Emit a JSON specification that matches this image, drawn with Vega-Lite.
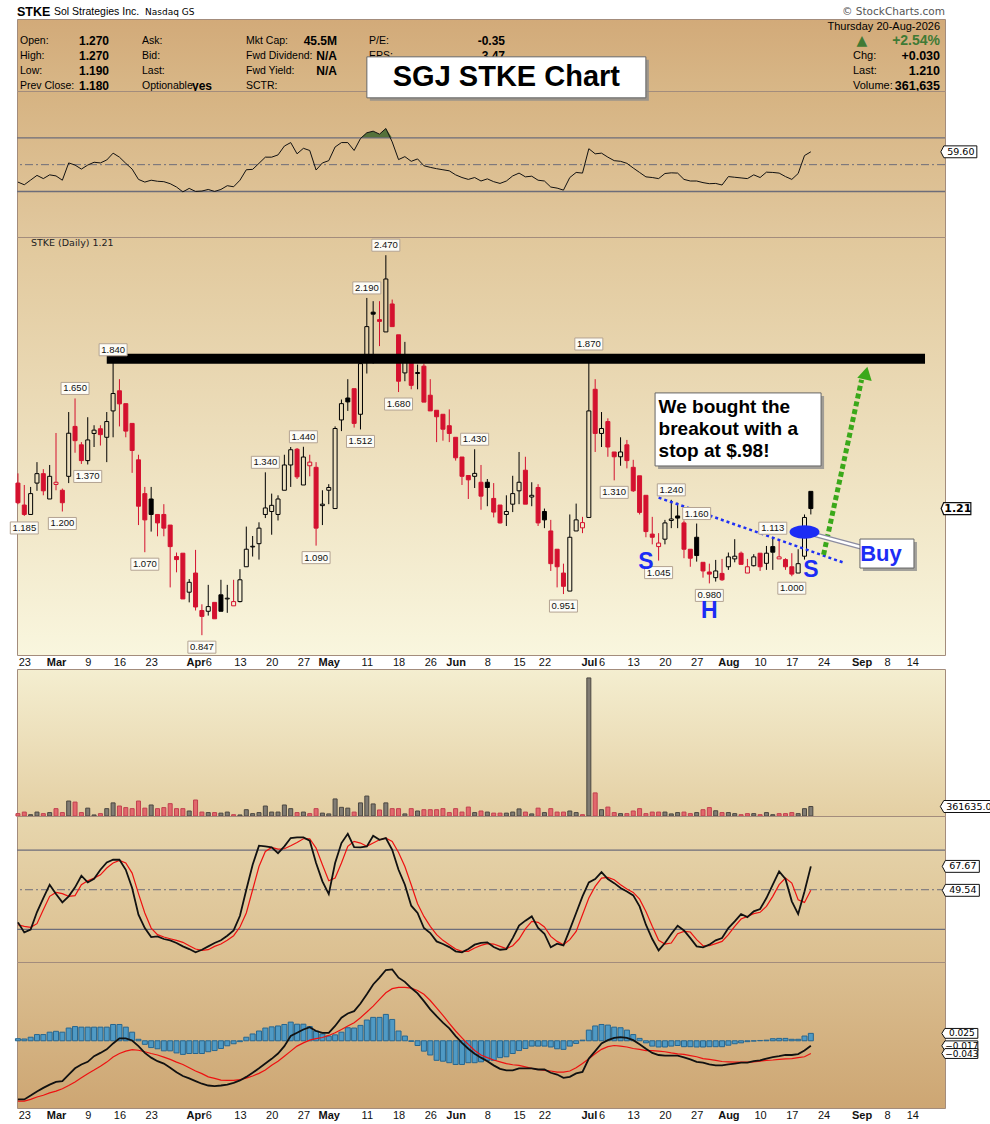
{
  "$schema": "https://vega.github.io/schema/vega-lite/v6.json",
  "background": "white",
  "padding": {"left": 7, "top": 5, "right": 0, "bottom": 0},
  "spacing": 0,
  "config": {"view": {"stroke": "#a38c7c"}, "text": {"font": "DejaVu Sans"}},
  "datasets": {
    "px": [
      {"d":"02-20","o":1.30,"h":1.336,"l":1.225,"c":1.23,"v":90000,"rsi":37,"k":25.3,"ds":23.5,"m":-0.198,"s":-0.204,"hg":0.007},
      {"d":"02-23","o":1.222,"h":1.293,"l":1.185,"c":1.19,"v":150000,"rsi":35,"k":17.7,"ds":22.3,"m":-0.198,"s":-0.204,"hg":0.006},
      {"d":"02-24","o":1.19,"h":1.286,"l":1.19,"c":1.262,"v":50000,"rsi":38.5,"k":19.8,"ds":21.5,"m":-0.185,"s":-0.198,"hg":0.012},
      {"d":"02-25","o":1.30,"h":1.379,"l":1.272,"c":1.335,"v":150000,"rsi":42,"k":33.1,"ds":24.3,"m":-0.171,"s":-0.19,"hg":0.021},
      {"d":"02-26","o":1.335,"h":1.352,"l":1.256,"c":1.272,"v":90000,"rsi":39.6,"k":43.7,"ds":34.9,"m":-0.159,"s":-0.184,"hg":0.021},
      {"d":"02-27","o":1.243,"h":1.368,"l":1.243,"c":1.325,"v":130000,"rsi":42.4,"k":53.8,"ds":45,"m":-0.148,"s":-0.176,"hg":0.029},
      {"d":"03-02","o":1.295,"h":1.497,"l":1.274,"c":1.303,"v":280000,"rsi":41.6,"k":46.7,"ds":48,"m":-0.139,"s":-0.17,"hg":0.032},
      {"d":"03-03","o":1.274,"h":1.28,"l":1.20,"c":1.23,"v":130000,"rsi":38.4,"k":40.4,"ds":47,"m":-0.136,"s":-0.162,"hg":0.029},
      {"d":"03-04","o":1.325,"h":1.588,"l":1.30,"c":1.496,"v":570000,"rsi":51.3,"k":45,"ds":45,"m":-0.114,"s":-0.151,"hg":0.043},
      {"d":"03-05","o":1.525,"h":1.65,"l":1.416,"c":1.465,"v":530000,"rsi":49.7,"k":51.8,"ds":45.5,"m":-0.093,"s":-0.139,"hg":0.048},
      {"d":"03-06","o":1.448,"h":1.459,"l":1.372,"c":1.385,"v":130000,"rsi":46.7,"k":60.6,"ds":53.8,"m":-0.08,"s":-0.125,"hg":0.046},
      {"d":"03-09","o":1.385,"h":1.565,"l":1.37,"c":1.468,"v":300000,"rsi":49.7,"k":55.5,"ds":56.8,"m":-0.071,"s":-0.111,"hg":0.046},
      {"d":"03-10","o":1.495,"h":1.53,"l":1.439,"c":1.509,"v":40000,"rsi":51.8,"k":58.3,"ds":58.8,"m":-0.052,"s":-0.099,"hg":0.046},
      {"d":"03-11","o":1.515,"h":1.53,"l":1.445,"c":1.49,"v":90000,"rsi":51.3,"k":65.1,"ds":61.3,"m":-0.041,"s":-0.086,"hg":0.046},
      {"d":"03-12","o":1.479,"h":1.588,"l":1.379,"c":1.546,"v":280000,"rsi":53.5,"k":70.7,"ds":66.4,"m":-0.029,"s":-0.072,"hg":0.046},
      {"d":"03-13","o":1.593,"h":1.84,"l":1.479,"c":1.673,"v":500000,"rsi":58.6,"k":72.7,"ds":70.2,"m":-0.009,"s":-0.055,"hg":0.055},
      {"d":"03-16","o":1.686,"h":1.742,"l":1.525,"c":1.625,"v":380000,"rsi":55.6,"k":72.7,"ds":72.2,"m":0.008,"s":-0.043,"hg":0.055},
      {"d":"03-17","o":1.626,"h":1.626,"l":1.479,"c":1.505,"v":320000,"rsi":51,"k":65.1,"ds":70.2,"m":0.008,"s":-0.035,"hg":0.046},
      {"d":"03-18","o":1.538,"h":1.538,"l":1.338,"c":1.425,"v":280000,"rsi":46.7,"k":51.3,"ds":62.6,"m":0.001,"s":-0.03,"hg":0.029},
      {"d":"03-19","o":1.388,"h":1.408,"l":1.155,"c":1.218,"v":570000,"rsi":39,"k":31.1,"ds":47,"m":-0.018,"s":-0.032,"hg":0.005},
      {"d":"03-20","o":1.262,"h":1.286,"l":1.07,"c":1.172,"v":300000,"rsi":37,"k":21,"ds":32.4,"m":-0.041,"s":-0.037,"hg":-0.012},
      {"d":"03-23","o":1.243,"h":1.286,"l":1.134,"c":1.19,"v":420000,"rsi":38.4,"k":14.2,"ds":21,"m":-0.057,"s":-0.043,"hg":-0.023},
      {"d":"03-24","o":1.19,"h":1.19,"l":1.119,"c":1.162,"v":280000,"rsi":37.6,"k":14.7,"ds":16,"m":-0.069,"s":-0.048,"hg":-0.027},
      {"d":"03-25","o":1.19,"h":1.225,"l":1.119,"c":1.145,"v":320000,"rsi":37.3,"k":12.7,"ds":14.2,"m":-0.077,"s":-0.055,"hg":-0.034},
      {"d":"03-26","o":1.155,"h":1.155,"l":0.969,"c":1.087,"v":470000,"rsi":35.8,"k":11.7,"ds":12.9,"m":-0.091,"s":-0.063,"hg":-0.034},
      {"d":"03-27","o":1.057,"h":1.069,"l":1.011,"c":1.048,"v":280000,"rsi":33.3,"k":9.7,"ds":11.7,"m":-0.106,"s":-0.072,"hg":-0.041},
      {"d":"03-30","o":1.067,"h":1.067,"l":0.938,"c":0.938,"v":280000,"rsi":29.7,"k":7.1,"ds":10.2,"m":-0.119,"s":-0.08,"hg":-0.046},
      {"d":"03-31","o":0.956,"h":0.992,"l":0.929,"c":0.983,"v":190000,"rsi":32.3,"k":5.1,"ds":7.6,"m":-0.127,"s":-0.091,"hg":-0.043},
      {"d":"04-01","o":1.009,"h":1.077,"l":0.908,"c":0.917,"v":610000,"rsi":30,"k":2.6,"ds":5.1,"m":-0.136,"s":-0.102,"hg":-0.043},
      {"d":"04-02","o":0.908,"h":0.924,"l":0.847,"c":0.893,"v":150000,"rsi":30.3,"k":4.6,"ds":4.1,"m":-0.145,"s":-0.111,"hg":-0.043},
      {"d":"04-06","o":0.906,"h":0.976,"l":0.895,"c":0.918,"v":130000,"rsi":31.5,"k":7.1,"ds":4.6,"m":-0.151,"s":-0.122,"hg":-0.037},
      {"d":"04-07","o":0.929,"h":0.929,"l":0.887,"c":0.887,"v":130000,"rsi":30,"k":9.7,"ds":7.1,"m":-0.153,"s":-0.127,"hg":-0.033},
      {"d":"04-08","o":0.949,"h":0.99,"l":0.906,"c":0.906,"v":110000,"rsi":31.5,"k":11.7,"ds":8.9,"m":-0.151,"s":-0.133,"hg":-0.026},
      {"d":"04-09","o":0.938,"h":0.976,"l":0.902,"c":0.94,"v":150000,"rsi":34.3,"k":15.2,"ds":11.7,"m":-0.148,"s":-0.134,"hg":-0.017},
      {"d":"04-10","o":0.92,"h":0.99,"l":0.92,"c":0.931,"v":50000,"rsi":33.5,"k":19.2,"ds":15.2,"m":-0.142,"s":-0.134,"hg":-0.01},
      {"d":"04-13","o":0.931,"h":1.02,"l":0.929,"c":0.99,"v":40000,"rsi":38.4,"k":30.3,"ds":21.8,"m":-0.134,"s":-0.131,"hg":-0.003},
      {"d":"04-14","o":1.027,"h":1.15,"l":1.027,"c":1.079,"v":240000,"rsi":46.2,"k":50,"ds":32.4,"m":-0.122,"s":-0.126,"hg":0.012},
      {"d":"04-15","o":1.086,"h":1.12,"l":1.057,"c":1.088,"v":90000,"rsi":46.5,"k":68.9,"ds":50,"m":-0.108,"s":-0.119,"hg":0.023},
      {"d":"04-16","o":1.096,"h":1.164,"l":1.048,"c":1.145,"v":130000,"rsi":51,"k":83.3,"ds":67.6,"m":-0.093,"s":-0.11,"hg":0.033},
      {"d":"04-17","o":1.19,"h":1.34,"l":1.178,"c":1.212,"v":380000,"rsi":55.6,"k":82.8,"ds":79,"m":-0.077,"s":-0.099,"hg":0.043},
      {"d":"04-20","o":1.20,"h":1.262,"l":1.124,"c":1.221,"v":150000,"rsi":55.6,"k":82,"ds":82,"m":-0.061,"s":-0.083,"hg":0.047},
      {"d":"04-21","o":1.19,"h":1.256,"l":1.17,"c":1.243,"v":150000,"rsi":57.3,"k":77.7,"ds":80.8,"m":-0.043,"s":-0.069,"hg":0.05},
      {"d":"04-22","o":1.274,"h":1.408,"l":1.274,"c":1.368,"v":420000,"rsi":63.9,"k":82.8,"ds":81,"m":-0.018,"s":-0.052,"hg":0.055},
      {"d":"04-23","o":1.368,"h":1.439,"l":1.286,"c":1.428,"v":280000,"rsi":66.5,"k":89.1,"ds":83.3,"m":0.016,"s":-0.035,"hg":0.063},
      {"d":"04-24","o":1.43,"h":1.435,"l":1.315,"c":1.323,"v":130000,"rsi":58.1,"k":89.6,"ds":85.8,"m":0.027,"s":-0.018,"hg":0.056},
      {"d":"04-27","o":1.293,"h":1.44,"l":1.293,"c":1.399,"v":150000,"rsi":62.2,"k":89.6,"ds":88.6,"m":0.038,"s":-0.007,"hg":0.056},
      {"d":"04-28","o":1.365,"h":1.408,"l":1.325,"c":1.379,"v":90000,"rsi":60.6,"k":87.1,"ds":88.6,"m":0.046,"s":0.002,"hg":0.048},
      {"d":"04-29","o":1.359,"h":1.379,"l":1.09,"c":1.145,"v":280000,"rsi":46,"k":70.2,"ds":81.5,"m":0.033,"s":0.007,"hg":0.033},
      {"d":"04-30","o":1.22,"h":1.274,"l":1.155,"c":1.225,"v":110000,"rsi":51.3,"k":56.3,"ds":68.9,"m":0.027,"s":0.011,"hg":0.023},
      {"d":"05-01","o":1.274,"h":1.296,"l":1.225,"c":1.284,"v":80000,"rsi":53,"k":46.7,"ds":56.8,"m":0.027,"s":0.018,"hg":0.016},
      {"d":"05-04","o":1.21,"h":1.525,"l":1.21,"c":1.516,"v":650000,"rsi":63.2,"k":70.2,"ds":58.8,"m":0.05,"s":0.027,"hg":0.02},
      {"d":"05-05","o":1.553,"h":1.645,"l":1.505,"c":1.626,"v":330000,"rsi":66.5,"k":85.3,"ds":70.2,"m":0.078,"s":0.038,"hg":0.029},
      {"d":"05-06","o":1.652,"h":1.742,"l":1.593,"c":1.634,"v":300000,"rsi":66.5,"k":92.3,"ds":82.8,"m":0.092,"s":0.05,"hg":0.044},
      {"d":"05-07","o":1.696,"h":1.696,"l":1.52,"c":1.538,"v":150000,"rsi":60.6,"k":82.3,"ds":86.6,"m":0.1,"s":0.061,"hg":0.043},
      {"d":"05-08","o":1.578,"h":1.82,"l":1.512,"c":1.82,"v":500000,"rsi":69.5,"k":82,"ds":85.3,"m":0.126,"s":0.078,"hg":0.052},
      {"d":"05-11","o":1.833,"h":2.19,"l":1.77,"c":2.02,"v":760000,"rsi":73.8,"k":82.8,"ds":82.8,"m":0.157,"s":0.097,"hg":0.07},
      {"d":"05-12","o":2.104,"h":2.17,"l":1.82,"c":2.092,"v":460000,"rsi":75,"k":90.8,"ds":85.3,"m":0.19,"s":0.117,"hg":0.079},
      {"d":"05-13","o":2.06,"h":2.17,"l":1.912,"c":2.05,"v":230000,"rsi":72.8,"k":87.8,"ds":87.8,"m":0.213,"s":0.14,"hg":0.079},
      {"d":"05-14","o":1.99,"h":2.47,"l":1.99,"c":2.31,"v":500000,"rsi":77,"k":89.1,"ds":89.1,"m":0.239,"s":0.162,"hg":0.089},
      {"d":"05-15","o":2.153,"h":2.18,"l":2.02,"c":2.02,"v":280000,"rsi":67,"k":80.2,"ds":86.6,"m":0.241,"s":0.176,"hg":0.072},
      {"d":"05-18","o":1.974,"h":1.974,"l":1.68,"c":1.732,"v":280000,"rsi":53.8,"k":65.1,"ds":78.2,"m":0.213,"s":0.18,"hg":0.033},
      {"d":"05-19","o":1.773,"h":1.935,"l":1.732,"c":1.833,"v":80000,"rsi":56,"k":53.8,"ds":67.6,"m":0.199,"s":0.18,"hg":0.016},
      {"d":"05-20","o":1.823,"h":1.833,"l":1.693,"c":1.712,"v":280000,"rsi":52.5,"k":37.9,"ds":53.8,"m":0.178,"s":0.178,"hg":-0.002},
      {"d":"05-21","o":1.77,"h":1.815,"l":1.693,"c":1.775,"v":190000,"rsi":54.3,"k":32.4,"ds":39.4,"m":0.16,"s":0.17,"hg":-0.016},
      {"d":"05-22","o":1.807,"h":1.82,"l":1.633,"c":1.633,"v":240000,"rsi":49.2,"k":21,"ds":29.8,"m":0.134,"s":0.157,"hg":-0.035},
      {"d":"05-26","o":1.665,"h":1.742,"l":1.593,"c":1.593,"v":240000,"rsi":48,"k":17.2,"ds":22.3,"m":0.106,"s":0.136,"hg":-0.048},
      {"d":"05-27","o":1.596,"h":1.596,"l":1.459,"c":1.567,"v":240000,"rsi":47,"k":10.9,"ds":16,"m":0.083,"s":0.111,"hg":-0.066},
      {"d":"05-28","o":1.578,"h":1.578,"l":1.465,"c":1.513,"v":280000,"rsi":46.2,"k":8.9,"ds":11.7,"m":0.061,"s":0.086,"hg":-0.069},
      {"d":"05-29","o":1.528,"h":1.60,"l":1.459,"c":1.495,"v":130000,"rsi":45.4,"k":6.6,"ds":8.4,"m":0.042,"s":0.059,"hg":-0.074},
      {"d":"06-01","o":1.479,"h":1.479,"l":1.385,"c":1.396,"v":280000,"rsi":42.4,"k":3.4,"ds":5.1,"m":0.016,"s":0.033,"hg":-0.08},
      {"d":"06-02","o":1.399,"h":1.399,"l":1.293,"c":1.325,"v":150000,"rsi":40.4,"k":2.6,"ds":3.4,"m":-0.007,"s":0.01,"hg":-0.08},
      {"d":"06-03","o":1.328,"h":1.328,"l":1.243,"c":1.312,"v":340000,"rsi":39,"k":5.1,"ds":3.4,"m":-0.027,"s":-0.012,"hg":-0.074},
      {"d":"06-04","o":1.325,"h":1.43,"l":1.282,"c":1.336,"v":130000,"rsi":40.4,"k":8.4,"ds":5.9,"m":-0.044,"s":-0.033,"hg":-0.074},
      {"d":"06-05","o":1.303,"h":1.368,"l":1.206,"c":1.253,"v":190000,"rsi":37.8,"k":9.7,"ds":7.9,"m":-0.057,"s":-0.048,"hg":-0.071},
      {"d":"06-08","o":1.303,"h":1.315,"l":1.218,"c":1.284,"v":150000,"rsi":39.4,"k":10.2,"ds":9.2,"m":-0.069,"s":-0.057,"hg":-0.066},
      {"d":"06-09","o":1.245,"h":1.30,"l":1.18,"c":1.198,"v":110000,"rsi":37.3,"k":6.6,"ds":8.9,"m":-0.083,"s":-0.065,"hg":-0.066},
      {"d":"06-10","o":1.222,"h":1.222,"l":1.16,"c":1.162,"v":110000,"rsi":36,"k":4.6,"ds":7.1,"m":-0.095,"s":-0.071,"hg":-0.057},
      {"d":"06-11","o":1.19,"h":1.256,"l":1.152,"c":1.20,"v":110000,"rsi":37.8,"k":5.1,"ds":5.4,"m":-0.1,"s":-0.077,"hg":-0.054},
      {"d":"06-12","o":1.225,"h":1.327,"l":1.198,"c":1.262,"v":150000,"rsi":41.6,"k":13.4,"ds":7.6,"m":-0.1,"s":-0.081,"hg":-0.043},
      {"d":"06-15","o":1.272,"h":1.419,"l":1.225,"c":1.303,"v":270000,"rsi":43.7,"k":22.8,"ds":12.7,"m":-0.093,"s":-0.083,"hg":-0.033},
      {"d":"06-16","o":1.348,"h":1.40,"l":1.225,"c":1.225,"v":150000,"rsi":40.9,"k":26.6,"ds":20.3,"m":-0.093,"s":-0.088,"hg":-0.026},
      {"d":"06-17","o":1.25,"h":1.303,"l":1.218,"c":1.256,"v":80000,"rsi":41.4,"k":29.8,"ds":26.1,"m":-0.093,"s":-0.093,"hg":-0.018},
      {"d":"06-18","o":1.284,"h":1.296,"l":1.152,"c":1.162,"v":300000,"rsi":38.4,"k":21,"ds":25.3,"m":-0.097,"s":-0.097,"hg":-0.018},
      {"d":"06-22","o":1.20,"h":1.21,"l":1.145,"c":1.172,"v":130000,"rsi":37.8,"k":16.7,"ds":21.8,"m":-0.097,"s":-0.1,"hg":-0.018},
      {"d":"06-23","o":1.136,"h":1.172,"l":1.015,"c":1.036,"v":280000,"rsi":33.3,"k":6.4,"ds":14.7,"m":-0.108,"s":-0.102,"hg":-0.021},
      {"d":"06-24","o":1.079,"h":1.079,"l":0.969,"c":1.027,"v":150000,"rsi":32.5,"k":9.2,"ds":10.9,"m":-0.114,"s":-0.106,"hg":-0.027},
      {"d":"06-25","o":1.009,"h":1.036,"l":0.951,"c":0.972,"v":150000,"rsi":31,"k":7.9,"ds":8.4,"m":-0.125,"s":-0.106,"hg":-0.029},
      {"d":"06-26","o":0.959,"h":1.19,"l":0.959,"c":1.116,"v":190000,"rsi":40.4,"k":19.8,"ds":12.2,"m":-0.122,"s":-0.102,"hg":-0.018},
      {"d":"06-29","o":1.136,"h":1.227,"l":1.136,"c":1.172,"v":130000,"rsi":44.2,"k":32.4,"ds":18.5,"m":-0.11,"s":-0.091,"hg":-0.009},
      {"d":"06-30","o":1.146,"h":1.182,"l":1.129,"c":1.163,"v":50000,"rsi":43.7,"k":45,"ds":31.1,"m":-0.105,"s":-0.077,"hg":0.002},
      {"d":"07-01","o":1.18,"h":1.87,"l":1.18,"c":1.593,"v":5260000,"rsi":61.9,"k":55.5,"ds":43.7,"m":-0.06,"s":-0.061,"hg":0.036},
      {"d":"07-02","o":1.693,"h":1.742,"l":1.419,"c":1.495,"v":880000,"rsi":58.1,"k":58.1,"ds":52.5,"m":-0.035,"s":-0.044,"hg":0.05},
      {"d":"07-06","o":1.495,"h":1.588,"l":1.439,"c":1.516,"v":240000,"rsi":58.6,"k":63.4,"ds":58.8,"m":-0.009,"s":-0.029,"hg":0.055},
      {"d":"07-07","o":1.546,"h":1.56,"l":1.40,"c":1.439,"v":340000,"rsi":55.6,"k":58.1,"ds":59.3,"m":0.002,"s":-0.02,"hg":0.053},
      {"d":"07-08","o":1.419,"h":1.419,"l":1.31,"c":1.40,"v":130000,"rsi":53,"k":55,"ds":57.6,"m":0.01,"s":-0.016,"hg":0.046},
      {"d":"07-09","o":1.40,"h":1.479,"l":1.365,"c":1.419,"v":90000,"rsi":52.5,"k":51.3,"ds":53.8,"m":0.012,"s":-0.018,"hg":0.044},
      {"d":"07-10","o":1.448,"h":1.468,"l":1.355,"c":1.385,"v":90000,"rsi":51,"k":48.7,"ds":50.5,"m":0.01,"s":-0.021,"hg":0.036},
      {"d":"07-13","o":1.359,"h":1.388,"l":1.268,"c":1.272,"v":190000,"rsi":47.5,"k":45.7,"ds":48,"m":0.002,"s":-0.026,"hg":0.021},
      {"d":"07-14","o":1.327,"h":1.327,"l":1.19,"c":1.197,"v":280000,"rsi":44.2,"k":37.4,"ds":42.9,"m":-0.012,"s":-0.029,"hg":0.008},
      {"d":"07-15","o":1.256,"h":1.256,"l":1.116,"c":1.134,"v":90000,"rsi":40.9,"k":23.5,"ds":33.6,"m":-0.027,"s":-0.033,"hg":-0.007},
      {"d":"07-16","o":1.126,"h":1.182,"l":1.094,"c":1.116,"v":150000,"rsi":40.4,"k":12.7,"ds":22.3,"m":-0.041,"s":-0.033,"hg":-0.018},
      {"d":"07-17","o":1.087,"h":1.129,"l":1.045,"c":1.098,"v":150000,"rsi":39.6,"k":4.1,"ds":11.7,"m":-0.048,"s":-0.035,"hg":-0.021},
      {"d":"07-20","o":1.11,"h":1.172,"l":1.094,"c":1.162,"v":150000,"rsi":43.4,"k":9.7,"ds":8.9,"m":-0.05,"s":-0.037,"hg":-0.021},
      {"d":"07-21","o":1.17,"h":1.24,"l":1.145,"c":1.175,"v":80000,"rsi":43.9,"k":16.5,"ds":9.7,"m":-0.05,"s":-0.041,"hg":-0.018},
      {"d":"07-22","o":1.185,"h":1.23,"l":1.145,"c":1.178,"v":130000,"rsi":43.7,"k":22.8,"ds":16.7,"m":-0.05,"s":-0.044,"hg":-0.016},
      {"d":"07-23","o":1.162,"h":1.17,"l":1.052,"c":1.079,"v":150000,"rsi":39,"k":19.2,"ds":18.5,"m":-0.056,"s":-0.046,"hg":-0.02},
      {"d":"07-24","o":1.079,"h":1.079,"l":1.027,"c":1.052,"v":90000,"rsi":37.8,"k":13.4,"ds":18,"m":-0.063,"s":-0.05,"hg":-0.02},
      {"d":"07-27","o":1.116,"h":1.16,"l":1.042,"c":1.06,"v":130000,"rsi":37.8,"k":7.1,"ds":12.2,"m":-0.071,"s":-0.054,"hg":-0.021},
      {"d":"07-28","o":1.04,"h":1.04,"l":0.996,"c":1.015,"v":240000,"rsi":36.6,"k":6.4,"ds":7.6,"m":-0.074,"s":-0.06,"hg":-0.021},
      {"d":"07-29","o":1.012,"h":1.036,"l":0.98,"c":1.006,"v":320000,"rsi":35.8,"k":8.4,"ds":7.6,"m":-0.08,"s":-0.063,"hg":-0.02},
      {"d":"07-30","o":0.996,"h":1.047,"l":0.985,"c":1.015,"v":200000,"rsi":36,"k":11.7,"ds":9.2,"m":-0.083,"s":-0.066,"hg":-0.02},
      {"d":"07-31","o":1.008,"h":1.05,"l":0.987,"c":0.99,"v":130000,"rsi":34.8,"k":13.4,"ds":10.9,"m":-0.083,"s":-0.07,"hg":-0.02},
      {"d":"08-03","o":1.027,"h":1.069,"l":1.018,"c":1.056,"v":130000,"rsi":41.1,"k":21,"ds":16,"m":-0.08,"s":-0.071,"hg":-0.015},
      {"d":"08-04","o":1.05,"h":1.11,"l":1.04,"c":1.058,"v":90000,"rsi":40.6,"k":26.1,"ds":22.3,"m":-0.077,"s":-0.072,"hg":-0.01},
      {"d":"08-05","o":1.067,"h":1.072,"l":1.034,"c":1.034,"v":50000,"rsi":40.1,"k":31.6,"ds":27.8,"m":-0.074,"s":-0.072,"hg":-0.007},
      {"d":"08-06","o":1.009,"h":1.05,"l":1.009,"c":1.027,"v":90000,"rsi":39.6,"k":29.3,"ds":29.8,"m":-0.074,"s":-0.072,"hg":-0.003},
      {"d":"08-07","o":1.03,"h":1.064,"l":1.028,"c":1.056,"v":90000,"rsi":42.4,"k":33.6,"ds":31.9,"m":-0.069,"s":-0.071,"hg":-0.001},
      {"d":"08-10","o":1.067,"h":1.067,"l":1.015,"c":1.027,"v":50000,"rsi":40.4,"k":35.4,"ds":32.9,"m":-0.066,"s":-0.069,"hg":0.001},
      {"d":"08-11","o":1.037,"h":1.089,"l":1.018,"c":1.067,"v":130000,"rsi":44.4,"k":43.7,"ds":37.4,"m":-0.06,"s":-0.066,"hg":0.002},
      {"d":"08-12","o":1.087,"h":1.113,"l":1.018,"c":1.07,"v":50000,"rsi":44.2,"k":53.8,"ds":45,"m":-0.055,"s":-0.065,"hg":0.007},
      {"d":"08-13","o":1.05,"h":1.11,"l":1.05,"c":1.056,"v":90000,"rsi":43.7,"k":63.9,"ds":53.8,"m":-0.052,"s":-0.063,"hg":0.008},
      {"d":"08-14","o":1.048,"h":1.052,"l":1.018,"c":1.027,"v":90000,"rsi":41.1,"k":58.1,"ds":58.8,"m":-0.048,"s":-0.061,"hg":0.008},
      {"d":"08-17","o":1.027,"h":1.067,"l":1.0,"c":1.006,"v":130000,"rsi":39,"k":41.2,"ds":55,"m":-0.048,"s":-0.06,"hg":0.005},
      {"d":"08-18","o":1.009,"h":1.079,"l":1.009,"c":1.036,"v":90000,"rsi":43.4,"k":31.6,"ds":42.4,"m":-0.045,"s":-0.057,"hg":0.005},
      {"d":"08-19","o":1.058,"h":1.19,"l":1.048,"c":1.18,"v":280000,"rsi":56.8,"k":48.7,"ds":40.4,"m":-0.033,"s":-0.054,"hg":0.016},
      {"d":"08-20","o":1.27,"h":1.27,"l":1.19,"c":1.21,"v":361635,"rsi":59.6,"k":67.67,"ds":49.54,"m":-0.017,"s":-0.043,"hg":0.025}
    ],
    "hi": [
      {"d":"03-05","p":1.65},{"d":"03-13","p":1.84},{"d":"04-17","p":1.34},{"d":"04-27","p":1.44},
      {"d":"05-11","p":2.19},{"d":"05-14","p":2.47},{"d":"06-04","p":1.43},{"d":"07-01","p":1.87},
      {"d":"07-21","p":1.24},{"d":"07-27","p":1.16},{"d":"08-12","p":1.113}
    ],
    "lo": [
      {"d":"02-23","p":1.185},{"d":"03-03","p":1.2},{"d":"03-09","p":1.37},{"d":"03-20","p":1.07},
      {"d":"04-02","p":0.847},{"d":"04-29","p":1.09},{"d":"05-08","p":1.512},{"d":"05-18","p":1.68},
      {"d":"06-25","p":0.951},{"d":"07-08","p":1.31},{"d":"07-17","p":1.045},{"d":"07-29","p":0.98},
      {"d":"08-17","p":1.0}
    ]
  },
  "vconcat": [
    {
      "spacing": 0,
      "bounds": "flush",
      "vconcat": [
        {
          "width": 928,
          "height": 72,
          "view": {"fill": {"gradient": "linear", "x1": 0, "y1": 0, "x2": 0, "y2": 1, "stops": [{"offset": 0, "color": "#d2aa79"}, {"offset": 1, "color": "#d8b787"}]}, "stroke": "#a38c7c"},
          "resolve": {"scale": {"x": "independent"}},
          "encoding": {"y": {"field": "ln", "type": "ordinal", "scale": {"type": "point", "domain": ["t", "0", "1", "2", "3", "4"], "range": [-7, 66.5], "padding": 0}, "axis": null}},
          "layer": [
            {
              "data": {"values": [{"ln": "t", "col": "a", "t": "STKE"}]},
              "mark": {"type": "text", "align": "left", "font": "Liberation Sans", "fontSize": 12.5, "fontWeight": "bold"},
              "encoding": {"x": {"field": "col", "type": "nominal", "scale": {"type": "point", "domain": ["a"], "range": [0, 0]}, "axis": null}, "text": {"field": "t"}}
            },
            {
              "data": {"values": [{"ln": "t", "col": "b", "t": "Sol Strategies Inc."}]},
              "mark": {"type": "text", "align": "left", "font": "Liberation Sans", "fontSize": 10.5},
              "encoding": {"x": {"field": "col", "type": "nominal", "scale": {"type": "point", "domain": ["b"], "range": [37, 37]}, "axis": null}, "text": {"field": "t"}}
            },
            {
              "data": {"values": [{"ln": "t", "col": "c", "t": "Nasdaq GS"}]},
              "mark": {"type": "text", "align": "left", "font": "DejaVu Sans", "fontSize": 9},
              "encoding": {"x": {"field": "col", "type": "nominal", "scale": {"type": "point", "domain": ["c"], "range": [128, 128]}, "axis": null}, "text": {"field": "t"}}
            },
            {
              "data": {"values": [{"ln": "t", "col": "z", "t": "© StockCharts.com"}]},
              "mark": {"type": "text", "align": "right", "font": "DejaVu Sans", "fontSize": 10.5, "color": "#555555"},
              "encoding": {"x": {"field": "col", "type": "nominal", "scale": {"type": "point", "domain": ["z"], "range": [928, 928]}, "axis": null}, "text": {"field": "t"}}
            },
            {
              "data": {"values": [
                {"ln": "1", "col": "A", "t": "Open:"}, {"ln": "2", "col": "A", "t": "High:"}, {"ln": "3", "col": "A", "t": "Low:"}, {"ln": "4", "col": "A", "t": "Prev Close:"},
                {"ln": "1", "col": "B", "t": "Ask:"}, {"ln": "2", "col": "B", "t": "Bid:"}, {"ln": "3", "col": "B", "t": "Last:"}, {"ln": "4", "col": "B", "t": "Optionable"}
              ]},
              "mark": {"type": "text", "align": "left", "font": "Liberation Sans", "fontSize": 10.5},
              "encoding": {"x": {"field": "col", "type": "nominal", "scale": {"type": "point", "domain": ["A", "B"], "range": [3, 125], "padding": 0}, "axis": null}, "text": {"field": "t"}}
            },
            {
              "data": {"values": [
                {"ln": "1", "col": "C", "t": "Mkt Cap:"}, {"ln": "2", "col": "C", "t": "Fwd Dividend:"}, {"ln": "3", "col": "C", "t": "Fwd Yield:"}, {"ln": "4", "col": "C", "t": "SCTR:"},
                {"ln": "1", "col": "D", "t": "P/E:"}, {"ln": "2", "col": "D", "t": "EPS:"}, {"ln": "3", "col": "D", "t": "Last Split:"}, {"ln": "4", "col": "D", "t": "Next Earnings:"}
              ]},
              "mark": {"type": "text", "align": "left", "font": "Liberation Sans", "fontSize": 10.5},
              "encoding": {"x": {"field": "col", "type": "nominal", "scale": {"type": "point", "domain": ["C", "D"], "range": [229, 352], "padding": 0}, "axis": null}, "text": {"field": "t"}}
            },
            {
              "data": {"values": [
                {"ln": "1", "col": "A", "t": "1.270"}, {"ln": "2", "col": "A", "t": "1.270"}, {"ln": "3", "col": "A", "t": "1.190"}, {"ln": "4", "col": "A", "t": "1.180"},
                {"ln": "4", "col": "B", "t": "yes"}
              ]},
              "mark": {"type": "text", "align": "left", "font": "Liberation Sans", "fontSize": 12, "fontWeight": "bold"},
              "encoding": {"x": {"field": "col", "type": "nominal", "scale": {"type": "point", "domain": ["A", "B"], "range": [62, 175], "padding": 0}, "axis": null}, "text": {"field": "t"}}
            },
            {
              "data": {"values": [
                {"ln": "1", "col": "C", "t": "45.5M"}, {"ln": "2", "col": "C", "t": "N/A"}, {"ln": "3", "col": "C", "t": "N/A"},
                {"ln": "1", "col": "D", "t": "-0.35"}, {"ln": "2", "col": "D", "t": "3.47"}
              ]},
              "mark": {"type": "text", "align": "right", "font": "Liberation Sans", "fontSize": 12, "fontWeight": "bold"},
              "encoding": {"x": {"field": "col", "type": "nominal", "scale": {"type": "point", "domain": ["C", "D"], "range": [320, 488], "padding": 0}, "axis": null}, "text": {"field": "t"}}
            },
            {
              "data": {"values": [{"ln": "2", "col": "R", "t": "Chg:"}, {"ln": "3", "col": "R", "t": "Last:"}, {"ln": "4", "col": "R", "t": "Volume:"}]},
              "mark": {"type": "text", "align": "left", "font": "Liberation Sans", "fontSize": 11},
              "encoding": {"x": {"field": "col", "type": "nominal", "scale": {"type": "point", "domain": ["R"], "range": [836, 836]}, "axis": null}, "text": {"field": "t"}}
            },
            {
              "data": {"values": [{"ln": "2", "col": "V", "t": "+0.030"}, {"ln": "3", "col": "V", "t": "1.210"}, {"ln": "4", "col": "V", "t": "361,635"}]},
              "mark": {"type": "text", "align": "right", "font": "Liberation Sans", "fontSize": 12.5, "fontWeight": "bold"},
              "encoding": {"x": {"field": "col", "type": "nominal", "scale": {"type": "point", "domain": ["V"], "range": [923, 923]}, "axis": null}, "text": {"field": "t"}}
            },
            {
              "data": {"values": [{"ln": "0", "col": "V", "t": "Thursday  20-Aug-2026"}]},
              "mark": {"type": "text", "align": "right", "font": "Liberation Sans", "fontSize": 11},
              "encoding": {"x": {"field": "col", "type": "nominal", "scale": {"type": "point", "domain": ["V"], "range": [923, 923]}, "axis": null}, "text": {"field": "t"}}
            },
            {
              "data": {"values": [{"ln": "1", "col": "V", "t": "+2.54%"}]},
              "mark": {"type": "text", "align": "right", "font": "Liberation Sans", "fontSize": 14, "fontWeight": "bold", "color": "#3f7a35"},
              "encoding": {"x": {"field": "col", "type": "nominal", "scale": {"type": "point", "domain": ["V"], "range": [923, 923]}, "axis": null}, "text": {"field": "t"}}
            },
            {
              "data": {"values": [{"ln": "1", "col": "T", "t": "▲"}]},
              "mark": {"type": "text", "align": "center", "font": "DejaVu Sans", "fontSize": 14, "color": "#3f7a35"},
              "encoding": {"x": {"field": "col", "type": "nominal", "scale": {"type": "point", "domain": ["T"], "range": [845, 845]}, "axis": null}, "text": {"field": "t"}}
            }
          ]
        },
        {
          "width": 928,
          "height": 146,
          "view": {"fill": {"gradient": "linear", "x1": 0, "y1": 0, "x2": 0, "y2": 1, "stops": [{"offset": 0, "color": "#d6b382"}, {"offset": 1, "color": "#e1c89e"}]}, "stroke": "#a38c7c"},
          "data": {"name": "px"},
          "transform": [{"calculate": "max(datum.rsi, 70)", "as": "ra"}],
          "layer": [
            {
              "mark": {"type": "area", "color": "#55713a"},
              "encoding": {
                "x": {"field": "d", "type": "ordinal", "scale": {"type": "point", "padding": 0.15, "domain": ["02-20","02-23","02-24","02-25","02-26","02-27","03-02","03-03","03-04","03-05","03-06","03-09","03-10","03-11","03-12","03-13","03-16","03-17","03-18","03-19","03-20","03-23","03-24","03-25","03-26","03-27","03-30","03-31","04-01","04-02","04-06","04-07","04-08","04-09","04-10","04-13","04-14","04-15","04-16","04-17","04-20","04-21","04-22","04-23","04-24","04-27","04-28","04-29","04-30","05-01","05-04","05-05","05-06","05-07","05-08","05-11","05-12","05-13","05-14","05-15","05-18","05-19","05-20","05-21","05-22","05-26","05-27","05-28","05-29","06-01","06-02","06-03","06-04","06-05","06-08","06-09","06-10","06-11","06-12","06-15","06-16","06-17","06-18","06-22","06-23","06-24","06-25","06-26","06-29","06-30","07-01","07-02","07-06","07-07","07-08","07-09","07-10","07-13","07-14","07-15","07-16","07-17","07-20","07-21","07-22","07-23","07-24","07-27","07-28","07-29","07-30","07-31","08-03","08-04","08-05","08-06","08-07","08-10","08-11","08-12","08-13","08-14","08-17","08-18","08-19","08-20","08-21","08-24","08-25","08-26","08-27","08-28","08-31","09-01","09-02","09-03","09-04","09-08","09-09","09-10","09-11","09-14","09-15","09-16","09-17","09-18","09-21"]}, "axis": null},
                "y": {"field": "ra", "type": "quantitative", "scale": {"domain": [-4, 105], "nice": false, "zero": false}, "axis": {"orient": "right", "title": null, "values": [10, 30, 50, 70, 90], "domain": false, "grid": false, "tickSize": 3, "tickColor": "#777777", "labelPadding": 2, "labelFont": "DejaVu Sans", "labelFontSize": 9.5, "labelColor": "#111111"}},
                "y2": {"datum": 70}
              }
            },
            {
              "data": {"values": [{"lvl": 30}, {"lvl": 70}]},
              "mark": {"type": "rule", "color": "#6d6d7a", "strokeWidth": 1.4},
              "encoding": {"y": {"field": "lvl", "type": "quantitative", "axis": null}}
            },
            {
              "data": {"values": [{"lvl": 50}]},
              "mark": {"type": "rule", "color": "#6d6d7a", "strokeWidth": 1, "strokeDash": [8, 3, 2, 3]},
              "encoding": {"y": {"field": "lvl", "type": "quantitative", "axis": null}}
            },
            {
              "mark": {"type": "line", "color": "#111111", "strokeWidth": 1},
              "encoding": {"x": {"field": "d", "type": "ordinal", "axis": null}, "y": {"field": "rsi", "type": "quantitative", "axis": null}}
            },
            {
              "transform": [{"filter": "datum.d == '08-20'"}],
              "layer": [
                {"mark": {"type": "point", "shape": "M-1.12,0L-0.94,-0.35H1V0.35H-0.94Z", "size": 1156, "filled": true, "color": "white", "stroke": "#111111", "strokeWidth": 1, "opacity": 1, "xOffset": 149},
                 "encoding": {"x": {"field": "d", "type": "ordinal", "axis": null}, "y": {"field": "rsi", "type": "quantitative", "axis": null}}},
                {"mark": {"type": "text", "dx": 150, "fontSize": 9.5, "font": "DejaVu Sans"},
                 "encoding": {"x": {"field": "d", "type": "ordinal", "axis": null}, "y": {"field": "rsi", "type": "quantitative", "axis": null}, "text": {"field": "rsi", "format": ".2f"}}}
              ]
            },
            {
              "data": {"values": [{"d": "06-11", "r": 115.2, "t": "SGJ STKE Chart"}]},
              "layer": [
                {"mark": {"type": "point", "shape": "M-1,-0.147H1V0.147H-1Z", "size": 77841, "filled": true, "color": "#8d8d8d", "opacity": 0.8, "xOffset": 3, "yOffset": 3},
                 "encoding": {"x": {"field": "d", "type": "ordinal", "axis": null}, "y": {"field": "r", "type": "quantitative", "axis": null}}},
                {"mark": {"type": "point", "shape": "M-1,-0.147H1V0.147H-1Z", "size": 77841, "filled": true, "color": "white", "stroke": "#666666", "strokeWidth": 1, "opacity": 1},
                 "encoding": {"x": {"field": "d", "type": "ordinal", "axis": null}, "y": {"field": "r", "type": "quantitative", "axis": null}}},
                {"mark": {"type": "text", "font": "Liberation Sans", "fontWeight": "bold", "fontSize": 29, "color": "#000000"},
                 "encoding": {"x": {"field": "d", "type": "ordinal", "axis": null}, "y": {"field": "r", "type": "quantitative", "axis": null}, "text": {"field": "t"}}}
              ]
            }
          ]
        },
        {
          "width": 928,
          "height": 418,
          "view": {"fill": {"gradient": "linear", "x1": 0, "y1": 0, "x2": 0, "y2": 1, "stops": [{"offset": 0, "color": "#e1c89c"}, {"offset": 1, "color": "#f9f6de"}]}, "stroke": "#a38c7c"},
          "data": {"name": "px"},
          "transform": [
            {"window": [{"op": "lag", "field": "c", "as": "pc"}], "sort": [{"field": "d", "order": "ascending"}]},
            {"calculate": "max(datum.o, datum.c)", "as": "top"},
            {"calculate": "min(datum.o, datum.c)", "as": "bot"},
            {"calculate": "datum.pc != null && datum.c >= datum.pc", "as": "up"}
          ],
          "layer": [
            {
              "mark": {"type": "rule", "strokeWidth": 1},
              "encoding": {
                "x": {"field": "d", "type": "ordinal", "scale": {"type": "point", "padding": 0.15, "domain": ["02-20","02-23","02-24","02-25","02-26","02-27","03-02","03-03","03-04","03-05","03-06","03-09","03-10","03-11","03-12","03-13","03-16","03-17","03-18","03-19","03-20","03-23","03-24","03-25","03-26","03-27","03-30","03-31","04-01","04-02","04-06","04-07","04-08","04-09","04-10","04-13","04-14","04-15","04-16","04-17","04-20","04-21","04-22","04-23","04-24","04-27","04-28","04-29","04-30","05-01","05-04","05-05","05-06","05-07","05-08","05-11","05-12","05-13","05-14","05-15","05-18","05-19","05-20","05-21","05-22","05-26","05-27","05-28","05-29","06-01","06-02","06-03","06-04","06-05","06-08","06-09","06-10","06-11","06-12","06-15","06-16","06-17","06-18","06-22","06-23","06-24","06-25","06-26","06-29","06-30","07-01","07-02","07-06","07-07","07-08","07-09","07-10","07-13","07-14","07-15","07-16","07-17","07-20","07-21","07-22","07-23","07-24","07-27","07-28","07-29","07-30","07-31","08-03","08-04","08-05","08-06","08-07","08-10","08-11","08-12","08-13","08-14","08-17","08-18","08-19","08-20","08-21","08-24","08-25","08-26","08-27","08-28","08-31","09-01","09-02","09-03","09-04","09-08","09-09","09-10","09-11","09-14","09-15","09-16","09-17","09-18","09-21"]},
                  "axis": {"orient": "bottom", "title": null, "values": ["02-23","03-02","03-09","03-16","03-23","04-01","04-06","04-13","04-20","04-27","05-01","05-11","05-18","05-26","06-01","06-08","06-15","06-22","07-01","07-06","07-13","07-20","07-27","08-03","08-10","08-17","08-24","09-01","09-08","09-14"],
                    "labelExpr": "indexof(['03-02','04-01','05-01','06-01','07-01','08-03','09-01'], datum.value) >= 0 ? ['Mar','Apr','May','Jun','Jul','Aug','Sep'][indexof(['03-02','04-01','05-01','06-01','07-01','08-03','09-01'], datum.value)] : '' + toNumber(substring(datum.value, 3))",
                    "labelFontWeight": {"condition": {"test": "indexof(['03-02','04-01','05-01','06-01','07-01','08-03','09-01'], datum.value) >= 0", "value": "bold"}, "value": "normal"},
                    "labelFont": "Liberation Sans", "labelFontSize": 11, "labelColor": "#111111", "labelAngle": 0, "labelPadding": 1, "ticks": false, "domain": false, "grid": false}},
                "y": {"field": "h", "type": "quantitative", "scale": {"type": "log", "domain": [0.801, 2.6], "nice": false}, "axis": {"orient": "right", "title": null, "values": [0.9, 1.0, 1.1, 1.3, 1.4, 1.5, 1.6, 1.7, 1.8, 1.9, 2.0, 2.1, 2.2, 2.3, 2.4, 2.5], "format": ".2f", "domain": false, "grid": false, "tickSize": 3, "tickColor": "#777777", "labelPadding": 2, "labelFont": "DejaVu Sans", "labelFontSize": 9.5, "labelColor": "#111111", "labelOverlap": false}},
                "y2": {"field": "top"},
                "color": {"condition": {"test": "datum.up", "value": "#000000"}, "value": "#d4112f"}
              }
            },
            {
              "mark": {"type": "rule", "strokeWidth": 1},
              "encoding": {
                "x": {"field": "d", "type": "ordinal"},
                "y": {"field": "bot", "type": "quantitative", "axis": null},
                "y2": {"field": "l"},
                "color": {"condition": {"test": "datum.up", "value": "#000000"}, "value": "#d4112f"}
              }
            },
            {
              "mark": {"type": "bar", "width": 4, "strokeWidth": 1},
              "encoding": {
                "x": {"field": "d", "type": "ordinal"},
                "y": {"field": "o", "type": "quantitative", "axis": null},
                "y2": {"field": "c"},
                "fill": {"condition": [{"test": "datum.c < datum.o && datum.up", "value": "#000000"}, {"test": "datum.c < datum.o", "value": "#d4112f"}], "value": "transparent"},
                "stroke": {"condition": {"test": "datum.up", "value": "#000000"}, "value": "#d4112f"}
              }
            },
            {
              "data": {"values": [{"d": "03-12", "b": "09-16", "p": 1.845}]},
              "mark": {"type": "rule", "strokeWidth": 10, "color": "#000000", "strokeCap": "butt"},
              "encoding": {"x": {"field": "d", "type": "ordinal"}, "x2": {"field": "b"}, "y": {"field": "p", "type": "quantitative", "axis": null}}
            },
            {
              "data": {"values": [{"d": "07-17", "p": 1.248}, {"d": "08-27", "p": 1.04}]},
              "mark": {"type": "line", "color": "#1e30f5", "strokeWidth": 2.5, "strokeDash": [3, 3]},
              "encoding": {"x": {"field": "d", "type": "ordinal"}, "y": {"field": "p", "type": "quantitative", "axis": null}}
            },
            {
              "data": {"values": [{"d": "08-24", "p": 1.062}, {"d": "09-01", "p": 1.739}]},
              "mark": {"type": "line", "color": "#3aa81a", "strokeWidth": 5, "strokeDash": [5, 3]},
              "encoding": {"x": {"field": "d", "type": "ordinal"}, "y": {"field": "p", "type": "quantitative", "axis": null}}
            },
            {
              "data": {"values": [{"d": "09-02", "p": 1.772}]},
              "mark": {"type": "point", "shape": "triangle-up", "size": 220, "angle": 13, "filled": true, "color": "#3aa81a", "opacity": 1, "xOffset": -2},
              "encoding": {"x": {"field": "d", "type": "ordinal"}, "y": {"field": "p", "type": "quantitative", "axis": null}}
            },
            {
              "data": {"values": [{"d": "08-19", "p": 1.133}, {"d": "09-01", "p": 1.085}]},
              "layer": [
                {"mark": {"type": "line", "color": "#8c8ca0", "strokeWidth": 5},
                 "encoding": {"x": {"field": "d", "type": "ordinal"}, "y": {"field": "p", "type": "quantitative", "axis": null}}},
                {"mark": {"type": "line", "color": "#ffffff", "strokeWidth": 2.5},
                 "encoding": {"x": {"field": "d", "type": "ordinal"}, "y": {"field": "p", "type": "quantitative", "axis": null}}}
              ]
            },
            {
              "data": {"values": [{"d": "08-19", "p": 1.133}]},
              "mark": {"type": "point", "shape": "M-1,0A1,0.45,0,1,1,1,0A1,0.45,0,1,1,-1,0Z", "size": 900, "filled": true, "color": "#1c2cf5", "opacity": 1},
              "encoding": {"x": {"field": "d", "type": "ordinal"}, "y": {"field": "p", "type": "quantitative", "axis": null}}
            },
            {
              "data": {"name": "hi"},
              "layer": [
                {"mark": {"type": "point", "shape": "M-1,-0.43H1V0.43H-1Z", "size": 784, "filled": true, "color": "#fdfcf6", "stroke": "#b3a392", "strokeWidth": 1, "opacity": 1, "yOffset": -10},
                 "encoding": {"x": {"field": "d", "type": "ordinal"}, "y": {"field": "p", "type": "quantitative", "axis": null}}},
                {"mark": {"type": "text", "font": "Liberation Sans", "fontSize": 9.5, "dy": -10, "color": "#111111"},
                 "encoding": {"x": {"field": "d", "type": "ordinal"}, "y": {"field": "p", "type": "quantitative", "axis": null}, "text": {"field": "p", "format": ".3f"}}}
              ]
            },
            {
              "data": {"name": "lo"},
              "layer": [
                {"mark": {"type": "point", "shape": "M-1,-0.43H1V0.43H-1Z", "size": 784, "filled": true, "color": "#fdfcf6", "stroke": "#b3a392", "strokeWidth": 1, "opacity": 1, "yOffset": 12},
                 "encoding": {"x": {"field": "d", "type": "ordinal"}, "y": {"field": "p", "type": "quantitative", "axis": null}}},
                {"mark": {"type": "text", "font": "Liberation Sans", "fontSize": 9.5, "dy": 12, "color": "#111111"},
                 "encoding": {"x": {"field": "d", "type": "ordinal"}, "y": {"field": "p", "type": "quantitative", "axis": null}, "text": {"field": "p", "format": ".3f"}}}
              ]
            },
            {
              "data": {"values": [{"d": "02-20", "p": 2.557, "t": "STKE (Daily) 1.21"}]},
              "mark": {"type": "text", "align": "left", "dx": 13, "font": "DejaVu Sans", "fontSize": 9.5, "color": "#222222"},
              "encoding": {"x": {"field": "d", "type": "ordinal"}, "y": {"field": "p", "type": "quantitative", "axis": null}, "text": {"field": "t"}}
            },
            {
              "data": {"values": [{"d": "08-05", "p": 1.512}]},
              "layer": [
                {"mark": {"type": "point", "shape": "M-1,-0.44H1V0.44H-1Z", "size": 27556, "filled": true, "color": "#8d8d8d", "opacity": 0.8, "xOffset": 0, "yOffset": 3},
                 "encoding": {"x": {"field": "d", "type": "ordinal"}, "y": {"field": "p", "type": "quantitative", "axis": null}}},
                {"mark": {"type": "point", "shape": "M-1,-0.44H1V0.44H-1Z", "size": 27556, "filled": true, "color": "white", "stroke": "#666666", "strokeWidth": 1, "opacity": 1, "xOffset": -3},
                 "encoding": {"x": {"field": "d", "type": "ordinal"}, "y": {"field": "p", "type": "quantitative", "axis": null}}}
              ]
            },
            {
              "data": {"values": [{"d": "07-17", "p": 1.611, "t": "We bought the\nbreakout with a\nstop at $.98!"}]},
              "mark": {"type": "text", "align": "left", "baseline": "middle", "lineBreak": "\n", "lineHeight": 22, "font": "Liberation Sans", "fontWeight": "bold", "fontSize": 19, "color": "#000000"},
              "encoding": {"x": {"field": "d", "type": "ordinal"}, "y": {"field": "p", "type": "quantitative", "axis": null}, "text": {"field": "t"}}
            },
            {
              "data": {"values": [{"d": "09-08", "p": 1.066, "t": "Buy"}]},
              "layer": [
                {"mark": {"type": "point", "shape": "M-1,-0.537H1V0.537H-1Z", "size": 2916, "filled": true, "color": "#8d8d8d", "opacity": 0.8, "xOffset": 3, "yOffset": 3},
                 "encoding": {"x": {"field": "d", "type": "ordinal"}, "y": {"field": "p", "type": "quantitative", "axis": null}}},
                {"mark": {"type": "point", "shape": "M-1,-0.537H1V0.537H-1Z", "size": 2916, "filled": true, "color": "white", "stroke": "#666666", "strokeWidth": 1, "opacity": 1},
                 "encoding": {"x": {"field": "d", "type": "ordinal"}, "y": {"field": "p", "type": "quantitative", "axis": null}}},
                {"mark": {"type": "text", "dx": -6, "font": "Liberation Sans", "fontWeight": "bold", "fontSize": 22, "color": "#1c2cf5"},
                 "encoding": {"x": {"field": "d", "type": "ordinal"}, "y": {"field": "p", "type": "quantitative", "axis": null}, "text": {"field": "t"}}}
              ]
            },
            {
              "data": {"values": [{"d": "07-15", "p": 1.041, "t": "S"}, {"d": "07-29", "p": 0.907, "t": "H"}, {"d": "08-20", "p": 1.018, "t": "S"}]},
              "mark": {"type": "text", "font": "Liberation Sans", "fontWeight": "bold", "fontSize": 23, "color": "#1c2cf5"},
              "encoding": {"x": {"field": "d", "type": "ordinal"}, "y": {"field": "p", "type": "quantitative", "axis": null}, "text": {"field": "t"}}
            },
            {
              "transform": [{"filter": "datum.d == '08-20'"}],
              "layer": [
                {"mark": {"type": "point", "shape": "M-1.12,0L-0.94,-0.43H1V0.43H-0.94Z", "size": 784, "filled": true, "color": "white", "stroke": "#111111", "strokeWidth": 1.2, "opacity": 1, "xOffset": 146},
                 "encoding": {"x": {"field": "d", "type": "ordinal"}, "y": {"field": "c", "type": "quantitative", "axis": null}}},
                {"mark": {"type": "text", "dx": 147, "fontSize": 11, "fontWeight": "bold", "font": "DejaVu Sans"},
                 "encoding": {"x": {"field": "d", "type": "ordinal"}, "y": {"field": "c", "type": "quantitative", "axis": null}, "text": {"field": "c", "format": ".2f"}}}
              ]
            }
          ]
        }
      ]
    },
    {
      "spacing": 0,
      "bounds": "flush",
      "vconcat": [
        {
          "width": 928,
          "height": 147,
          "view": {"fill": {"gradient": "linear", "x1": 0, "y1": 0, "x2": 0, "y2": 1, "stops": [{"offset": 0, "color": "#f4eed0"}, {"offset": 1, "color": "#e4cfa3"}]}, "stroke": "#a38c7c"},
          "data": {"name": "px"},
          "transform": [
            {"window": [{"op": "lag", "field": "c", "as": "pc"}], "sort": [{"field": "d", "order": "ascending"}]},
            {"calculate": "datum.pc != null && datum.c >= datum.pc", "as": "up"}
          ],
          "layer": [
            {
              "mark": {"type": "bar", "width": 4, "strokeWidth": 1},
              "encoding": {
                "x": {"field": "d", "type": "ordinal", "scale": {"type": "point", "padding": 0.15, "domain": ["02-20","02-23","02-24","02-25","02-26","02-27","03-02","03-03","03-04","03-05","03-06","03-09","03-10","03-11","03-12","03-13","03-16","03-17","03-18","03-19","03-20","03-23","03-24","03-25","03-26","03-27","03-30","03-31","04-01","04-02","04-06","04-07","04-08","04-09","04-10","04-13","04-14","04-15","04-16","04-17","04-20","04-21","04-22","04-23","04-24","04-27","04-28","04-29","04-30","05-01","05-04","05-05","05-06","05-07","05-08","05-11","05-12","05-13","05-14","05-15","05-18","05-19","05-20","05-21","05-22","05-26","05-27","05-28","05-29","06-01","06-02","06-03","06-04","06-05","06-08","06-09","06-10","06-11","06-12","06-15","06-16","06-17","06-18","06-22","06-23","06-24","06-25","06-26","06-29","06-30","07-01","07-02","07-06","07-07","07-08","07-09","07-10","07-13","07-14","07-15","07-16","07-17","07-20","07-21","07-22","07-23","07-24","07-27","07-28","07-29","07-30","07-31","08-03","08-04","08-05","08-06","08-07","08-10","08-11","08-12","08-13","08-14","08-17","08-18","08-19","08-20","08-21","08-24","08-25","08-26","08-27","08-28","08-31","09-01","09-02","09-03","09-04","09-08","09-09","09-10","09-11","09-14","09-15","09-16","09-17","09-18","09-21"]}, "axis": null},
                "y": {"field": "v", "type": "quantitative", "scale": {"domain": [0, 5600000], "nice": false}, "axis": {"orient": "right", "title": null, "values": [1000000, 1500000, 2000000, 2500000, 3000000, 3500000, 4000000, 4500000, 5000000], "labelExpr": "format(datum.value / 1000000, '.1f') + 'M'", "domain": false, "grid": false, "tickSize": 3, "tickColor": "#777777", "labelPadding": 2, "labelFont": "DejaVu Sans", "labelFontSize": 9.5, "labelColor": "#111111"}},
                "fill": {"condition": {"test": "datum.up", "value": "#817c74"}, "value": "#e2686d"},
                "stroke": {"condition": {"test": "datum.up", "value": "#4b4741"}, "value": "#c2404e"}
              }
            },
            {
              "transform": [{"filter": "datum.d == '08-20'"}],
              "layer": [
                {"mark": {"type": "point", "shape": "M-1.1,0L-0.96,-0.24H1V0.24H-0.96Z", "size": 2500, "filled": true, "color": "white", "stroke": "#111111", "strokeWidth": 1, "opacity": 1, "xOffset": 157},
                 "encoding": {"x": {"field": "d", "type": "ordinal", "axis": null}, "y": {"field": "v", "type": "quantitative", "axis": null}}},
                {"mark": {"type": "text", "dx": 158, "fontSize": 9.5, "font": "DejaVu Sans"},
                 "encoding": {"x": {"field": "d", "type": "ordinal", "axis": null}, "y": {"field": "v", "type": "quantitative", "axis": null}, "text": {"field": "v", "format": ".1f"}}}
              ]
            }
          ]
        },
        {
          "width": 928,
          "height": 146,
          "view": {"fill": {"gradient": "linear", "x1": 0, "y1": 0, "x2": 0, "y2": 1, "stops": [{"offset": 0, "color": "#e7d6ad"}, {"offset": 1, "color": "#dbbf90"}]}, "stroke": "#a38c7c"},
          "data": {"name": "px"},
          "layer": [
            {
              "data": {"values": [{"lvl": 20}, {"lvl": 80}]},
              "mark": {"type": "rule", "color": "#6d6d7a", "strokeWidth": 1.4},
              "encoding": {"y": {"field": "lvl", "type": "quantitative", "scale": {"domain": [-4.7, 105.8], "nice": false, "zero": false}, "axis": {"orient": "right", "title": null, "values": [20, 80], "domain": false, "grid": false, "tickSize": 3, "tickColor": "#777777", "labelPadding": 2, "labelFont": "DejaVu Sans", "labelFontSize": 9.5, "labelColor": "#111111"}}}
            },
            {
              "data": {"values": [{"lvl": 50}]},
              "mark": {"type": "rule", "color": "#6d6d7a", "strokeWidth": 1, "strokeDash": [8, 3, 2, 3]},
              "encoding": {"y": {"field": "lvl", "type": "quantitative", "axis": null}}
            },
            {
              "mark": {"type": "line", "color": "#ee1111", "strokeWidth": 1.2},
              "encoding": {
                "x": {"field": "d", "type": "ordinal", "scale": {"type": "point", "padding": 0.15, "domain": ["02-20","02-23","02-24","02-25","02-26","02-27","03-02","03-03","03-04","03-05","03-06","03-09","03-10","03-11","03-12","03-13","03-16","03-17","03-18","03-19","03-20","03-23","03-24","03-25","03-26","03-27","03-30","03-31","04-01","04-02","04-06","04-07","04-08","04-09","04-10","04-13","04-14","04-15","04-16","04-17","04-20","04-21","04-22","04-23","04-24","04-27","04-28","04-29","04-30","05-01","05-04","05-05","05-06","05-07","05-08","05-11","05-12","05-13","05-14","05-15","05-18","05-19","05-20","05-21","05-22","05-26","05-27","05-28","05-29","06-01","06-02","06-03","06-04","06-05","06-08","06-09","06-10","06-11","06-12","06-15","06-16","06-17","06-18","06-22","06-23","06-24","06-25","06-26","06-29","06-30","07-01","07-02","07-06","07-07","07-08","07-09","07-10","07-13","07-14","07-15","07-16","07-17","07-20","07-21","07-22","07-23","07-24","07-27","07-28","07-29","07-30","07-31","08-03","08-04","08-05","08-06","08-07","08-10","08-11","08-12","08-13","08-14","08-17","08-18","08-19","08-20","08-21","08-24","08-25","08-26","08-27","08-28","08-31","09-01","09-02","09-03","09-04","09-08","09-09","09-10","09-11","09-14","09-15","09-16","09-17","09-18","09-21"]}, "axis": null},
                "y": {"field": "ds", "type": "quantitative", "axis": null}
              }
            },
            {
              "mark": {"type": "line", "color": "#111111", "strokeWidth": 1.8},
              "encoding": {"x": {"field": "d", "type": "ordinal", "axis": null}, "y": {"field": "k", "type": "quantitative", "axis": null}}
            },
            {
              "transform": [{"filter": "datum.d == '08-20'"}, {"fold": ["k", "ds"], "as": ["key", "val"]}],
              "layer": [
                {"mark": {"type": "point", "shape": "M-1.12,0L-0.94,-0.34H1V0.34H-0.94Z", "size": 1225, "filled": true, "color": "white", "stroke": "#111111", "strokeWidth": 1, "opacity": 1, "xOffset": 151},
                 "encoding": {"x": {"field": "d", "type": "ordinal", "axis": null}, "y": {"field": "val", "type": "quantitative", "axis": null}}},
                {"mark": {"type": "text", "dx": 152, "fontSize": 9.5, "font": "DejaVu Sans"},
                 "encoding": {"x": {"field": "d", "type": "ordinal", "axis": null}, "y": {"field": "val", "type": "quantitative", "axis": null}, "text": {"field": "val", "format": ".2f"}}}
              ]
            }
          ]
        },
        {
          "width": 928,
          "height": 146,
          "view": {"fill": {"gradient": "linear", "x1": 0, "y1": 0, "x2": 0, "y2": 1, "stops": [{"offset": 0, "color": "#dbbf91"}, {"offset": 1, "color": "#cda673"}]}, "stroke": "#a38c7c"},
          "data": {"name": "px"},
          "layer": [
            {
              "mark": {"type": "bar", "width": 5, "strokeWidth": 1, "color": "#4f9ac5", "stroke": "#27668f"},
              "encoding": {
                "x": {"field": "d", "type": "ordinal", "scale": {"type": "point", "padding": 0.15, "domain": ["02-20","02-23","02-24","02-25","02-26","02-27","03-02","03-03","03-04","03-05","03-06","03-09","03-10","03-11","03-12","03-13","03-16","03-17","03-18","03-19","03-20","03-23","03-24","03-25","03-26","03-27","03-30","03-31","04-01","04-02","04-06","04-07","04-08","04-09","04-10","04-13","04-14","04-15","04-16","04-17","04-20","04-21","04-22","04-23","04-24","04-27","04-28","04-29","04-30","05-01","05-04","05-05","05-06","05-07","05-08","05-11","05-12","05-13","05-14","05-15","05-18","05-19","05-20","05-21","05-22","05-26","05-27","05-28","05-29","06-01","06-02","06-03","06-04","06-05","06-08","06-09","06-10","06-11","06-12","06-15","06-16","06-17","06-18","06-22","06-23","06-24","06-25","06-26","06-29","06-30","07-01","07-02","07-06","07-07","07-08","07-09","07-10","07-13","07-14","07-15","07-16","07-17","07-20","07-21","07-22","07-23","07-24","07-27","07-28","07-29","07-30","07-31","08-03","08-04","08-05","08-06","08-07","08-10","08-11","08-12","08-13","08-14","08-17","08-18","08-19","08-20","08-21","08-24","08-25","08-26","08-27","08-28","08-31","09-01","09-02","09-03","09-04","09-08","09-09","09-10","09-11","09-14","09-15","09-16","09-17","09-18","09-21"]},
                  "axis": {"orient": "bottom", "title": null, "values": ["02-23","03-02","03-09","03-16","03-23","04-01","04-06","04-13","04-20","04-27","05-01","05-11","05-18","05-26","06-01","06-08","06-15","06-22","07-01","07-06","07-13","07-20","07-27","08-03","08-10","08-17","08-24","09-01","09-08","09-14"],
                    "labelExpr": "indexof(['03-02','04-01','05-01','06-01','07-01','08-03','09-01'], datum.value) >= 0 ? ['Mar','Apr','May','Jun','Jul','Aug','Sep'][indexof(['03-02','04-01','05-01','06-01','07-01','08-03','09-01'], datum.value)] : '' + toNumber(substring(datum.value, 3))",
                    "labelFontWeight": {"condition": {"test": "indexof(['03-02','04-01','05-01','06-01','07-01','08-03','09-01'], datum.value) >= 0", "value": "bold"}, "value": "normal"},
                    "labelFont": "Liberation Sans", "labelFontSize": 11, "labelColor": "#111111", "labelAngle": 0, "labelPadding": 1, "ticks": false, "domain": false, "grid": false}},
                "y": {"field": "hg", "type": "quantitative", "scale": {"domain": [-0.227, 0.266], "nice": false, "zero": false}, "axis": {"orient": "right", "title": null, "values": [-0.2, -0.15, -0.1, -0.05, 0.05, 0.1, 0.15, 0.2, 0.25], "format": ".2f", "domain": false, "grid": false, "tickSize": 3, "tickColor": "#777777", "labelPadding": 2, "labelFont": "DejaVu Sans", "labelFontSize": 9.5, "labelColor": "#111111"}},
                "y2": {"datum": 0}
              }
            },
            {
              "mark": {"type": "line", "color": "#ee1111", "strokeWidth": 1.2},
              "encoding": {"x": {"field": "d", "type": "ordinal"}, "y": {"field": "s", "type": "quantitative", "axis": null}}
            },
            {
              "mark": {"type": "line", "color": "#111111", "strokeWidth": 1.8},
              "encoding": {"x": {"field": "d", "type": "ordinal"}, "y": {"field": "m", "type": "quantitative", "axis": null}}
            },
            {
              "transform": [{"filter": "datum.d == '08-20'"}, {"fold": ["hg", "m", "s"], "as": ["key", "val"]}],
              "layer": [
                {"mark": {"type": "point", "shape": "M-1.12,0L-0.94,-0.29H1V0.29H-0.94Z", "size": 1156, "filled": true, "color": "white", "stroke": "#111111", "strokeWidth": 1, "opacity": 1, "xOffset": 150},
                 "encoding": {"x": {"field": "d", "type": "ordinal"}, "y": {"field": "val", "type": "quantitative", "axis": null}}},
                {"mark": {"type": "text", "dx": 151, "fontSize": 9, "font": "DejaVu Sans"},
                 "encoding": {"x": {"field": "d", "type": "ordinal"}, "y": {"field": "val", "type": "quantitative", "axis": null}, "text": {"field": "val", "format": ".3f"}}}
              ]
            }
          ]
        }
      ]
    }
  ]
}
